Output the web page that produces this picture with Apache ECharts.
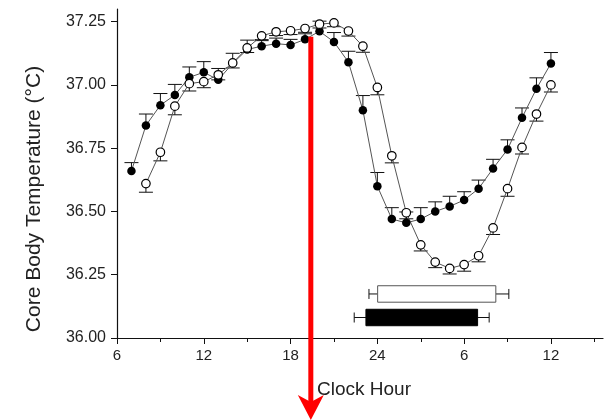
<!DOCTYPE html>
<html>
<head>
<meta charset="utf-8">
<script src="https://cdn.jsdelivr.net/npm/echarts@6/dist/echarts.min.js"></script>
<style>html,body{margin:0;padding:0;background:#fff}#c{width:604px;height:420px}</style>
</head>
<body>
<div id="c"></div>
<script>
// ---- data ----
const hoursFilled = [7,8,9,10,11,12,13,14,15,16,17,18,19,20,21,22,23,24,25,26,27,28,29,30,31,32,33,34,35,36];
const tempFilled  = [36.66,36.84,36.92,36.96,37.03,37.05,37.02,37.085,37.14,37.153,37.163,37.158,37.18,37.212,37.17,37.09,36.90,36.60,36.47,36.455,36.47,36.50,36.52,36.545,36.59,36.67,36.745,36.87,36.985,37.085];
const errFilled   = [0.033,0.045,0.046,0.042,0.041,0.042,0.045,0.040,0.037,0.022,0.022,0.022,0.022,0.040,0.037,0.043,0.058,0.054,0.045,0.043,0.045,0.038,0.040,0.033,0.034,0.036,0.038,0.039,0.043,0.043];

const hoursOpen = [8,9,10,11,12,13,14,15,16,17,18,19,20,21,22,23,24,25,26,27,28,29,30,31,32,33,34,35,36];
const tempOpen  = [36.61,36.734,36.916,37.005,37.013,37.04,37.087,37.146,37.194,37.21,37.214,37.223,37.24,37.245,37.213,37.153,36.99,36.72,36.495,36.368,36.30,36.275,36.29,36.325,36.435,36.59,36.753,36.885,37.0];
const errOpen   = [0.034,0.034,0.034,0.029,0.024,0.020,0.020,0.018,0.015,0.015,0.015,0.015,0.015,0.015,0.020,0.024,0.029,0.028,0.024,0.024,0.022,0.022,0.026,0.024,0.026,0.030,0.026,0.028,0.028];

// sleep episodes: [whisker start, box start, box end, whisker end] in clock hours (continuous)
const sleepOpen   = [23.42, 24.02, 32.19, 33.09];
const sleepFilled = [22.40, 23.21, 30.93, 31.73];
const sleepLevels = [36.174, 36.081]; // open, filled (temperature axis position)
const sleepHalfHeight = 0.0325;

const yTicks = [36.00,36.25,36.50,36.75,37.00,37.25];
const xMajorTicks = [6,12,18,24,30,36];
const xMinorTicks = [9,15,21,27,33,39];

const arrowHour = 19.4;
const arrowTopTemp = 37.19;

// ---- chart ----
const chart = echarts.init(document.getElementById('c'), null, {renderer:'canvas'});
const FONT = 'Liberation Sans, Arial, sans-serif';

function errRender(params, api) {
  const x = api.value(0), y = api.value(1), e = api.value(2);
  const p = api.coord([x, y]);
  const q = api.coord([x, y + e]);
  const st = {stroke:'#111', lineWidth:1};
  return {type:'group', children:[
    {type:'line', shape:{x1:p[0], y1:p[1], x2:q[0], y2:q[1]}, style:st},
    {type:'line', shape:{x1:q[0]-7, y1:q[1], x2:q[0]+7, y2:q[1]}, style:st}
  ]};
}

function sleepRender(params, api) {
  const w0 = api.value(0), b0 = api.value(1), b1 = api.value(2), w1 = api.value(3), lv = api.value(4), filled = api.value(5);
  const pw0 = api.coord([w0, lv]), pb0 = api.coord([b0, lv + sleepHalfHeight]);
  const pb1 = api.coord([b1, lv - sleepHalfHeight]), pw1 = api.coord([w1, lv]);
  const st = {stroke:'#111', lineWidth:1};
  const stroke = filled ? '#000' : '#555';
  return {type:'group', children:[
    {type:'line', shape:{x1:pw0[0], y1:pw0[1], x2:pb0[0], y2:pw0[1]}, style:st},
    {type:'line', shape:{x1:pb1[0], y1:pw1[1], x2:pw1[0], y2:pw1[1]}, style:st},
    {type:'line', shape:{x1:pw0[0], y1:pw0[1]-5, x2:pw0[0], y2:pw0[1]+5}, style:st},
    {type:'line', shape:{x1:pw1[0], y1:pw1[1]-5, x2:pw1[0], y2:pw1[1]+5}, style:st},
    {type:'rect', shape:{x:pb0[0], y:pb0[1], width:pb1[0]-pb0[0], height:pb1[1]-pb0[1]},
      style:{fill: filled ? '#000' : '#fff', stroke: stroke, lineWidth:1}}
  ]};
}

const option = {
  animation:false,
  backgroundColor:'#fff',
  grid:{left:117, right:1, top:9, bottom:82, containLabel:false},
  xAxis:[{
    type:'value', min:6, max:39.6,
    axisLine:{show:true, lineStyle:{color:'#111', width:1.2}},
    axisTick:{show:true, length:6, customValues:xMajorTicks, lineStyle:{color:'#111'}},
    axisLabel:{customValues:xMajorTicks, margin:10, fontSize:15, fontFamily:FONT, color:'#222',
      formatter:v => String(v <= 24 ? v : v - 24)},
    splitLine:{show:false},
    name:'Clock Hour', nameLocation:'middle', nameGap:42,
    nameTextStyle:{fontSize:19, fontFamily:FONT, color:'#222', padding:[0,0,0,8]}
  },{
    type:'value', min:6, max:39.6, position:'bottom',
    axisLine:{show:false},
    axisTick:{show:true, length:4, customValues:xMinorTicks, lineStyle:{color:'#111'}},
    axisLabel:{show:false},
    splitLine:{show:false}
  }],
  yAxis:{
    type:'value', min:36, max:37.3,
    axisLine:{show:true, lineStyle:{color:'#111', width:1.2}},
    axisTick:{show:true, length:6, customValues:yTicks, lineStyle:{color:'#111'}},
    axisLabel:{customValues:yTicks, margin:11, fontSize:16, fontFamily:FONT, color:'#222',
      formatter:v => v.toFixed(2)},
    splitLine:{show:false}
  },
  series:[
    {type:'line', data:hoursFilled.map((h,i)=>[h,tempFilled[i]]), symbol:'circle', symbolSize:8.5,
      lineStyle:{color:'#555', width:1}, itemStyle:{color:'#000', borderColor:'#000', borderWidth:0}, z:3},
    {type:'line', data:hoursOpen.map((h,i)=>[h,tempOpen[i]]), symbol:'circle', symbolSize:8.5,
      lineStyle:{color:'#555', width:1}, itemStyle:{color:'#fff', borderColor:'#000', borderWidth:1.2}, z:3},
    {type:'custom', renderItem:errRender, data:hoursFilled.map((h,i)=>[h,tempFilled[i],errFilled[i]]), z:2},
    {type:'custom', renderItem:errRender, data:hoursOpen.map((h,i)=>[h,tempOpen[i],-errOpen[i]]), z:2},
    {type:'custom', renderItem:sleepRender, data:[
      [...sleepOpen, sleepLevels[0], 0],
      [...sleepFilled, sleepLevels[1], 1]
    ], z:2}
  ]
};
chart.setOption(option);

const arrowTop = chart.convertToPixel({gridIndex:0}, [arrowHour, arrowTopTemp]);
const ax = arrowTop[0];
chart.setOption({graphic:[
  {type:'text', x:34, y:199, rotation:Math.PI/2,
    style:{text:'Core Body Temperature (°C)', font:'21px ' + FONT, fill:'#222', textAlign:'center', textVerticalAlign:'middle'}, z:10},
  {type:'line', shape:{x1:ax, y1:arrowTop[1], x2:ax, y2:402}, style:{stroke:'#ff0000', lineWidth:5}, z:20},
  {type:'polygon', shape:{points:[[ax-13,395],[ax,402],[ax+13,395],[ax,420]]}, style:{fill:'#ff0000'}, z:20}
]});
</script>
</body>
</html>
